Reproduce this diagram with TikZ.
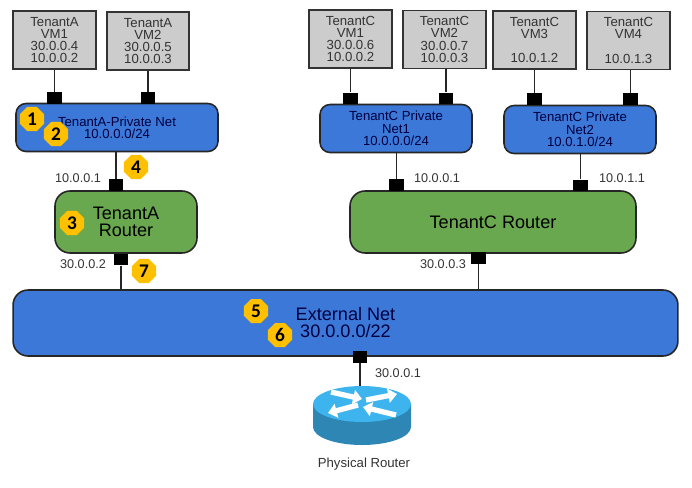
\documentclass[tikz,border=0pt]{standalone}
\usepackage{fontspec}
\setmainfont{Liberation Sans}
\newfontfamily\badgefont{Carlito}
\usetikzlibrary{arrows.meta,shapes.geometric}
\definecolor{vmGris}{HTML}{CCCCCC}
\definecolor{redAzul}{HTML}{3C78D8}
\definecolor{routerVerde}{HTML}{6AA84F}
\definecolor{badgeOro}{HTML}{FFC000}
\definecolor{fisicoClaro}{HTML}{3DB4EE}
\definecolor{fisicoOsc}{HTML}{2E86B5}
\definecolor{textoOsc}{HTML}{333333}

\begin{document}
\begin{tikzpicture}[
    x=0.02cm, y=-0.02cm,
    cajavm/.style={rectangle, draw=black!80, line width=0.9pt, fill=vmGris, text=textoOsc,
                 minimum width=1.65cm, minimum height=1.16cm, inner sep=0pt, align=center,
                 font=\fontsize{7.5}{7}\selectfont},
    cajanet/.style={rectangle, rounded corners=0.2cm, draw=black!85, line width=0.9pt, fill=redAzul,
                 minimum height=0.96cm, inner sep=0pt, align=center, text=black!75!blue,
                 font=\fontsize{7.5}{7}\selectfont},
    cajarouter/.style={rectangle, rounded corners=0.3cm, draw=black!85, line width=0.9pt, fill=routerVerde,
                 minimum height=1.24cm, inner sep=0pt, align=center,
                 font=\fontsize{10.3}{9.7}\selectfont},
    puerto/.style={rectangle, fill=black, minimum width=0.29cm, minimum height=0.23cm, inner sep=0pt},
    enlace/.style={draw=black!85, line width=1.1pt},
    ipnodo/.style={font=\fontsize{7.2}{8}\selectfont, text=textoOsc, inner sep=0pt},
    badge/.style={regular polygon, regular polygon sides=8, fill=badgeOro, minimum size=0.52cm,
                 inner sep=0pt, font=\badgefont\bfseries\fontsize{11}{11}\selectfont},
    flechar/.style={-{Triangle[length=5pt, width=8pt]}, white, line width=3pt}
  ]
  \useasboundingbox (0,0) rectangle (692,487);

  % VMs de TenantA
  \node[cajavm] (vmA1) at (54.5,40) {TenantA\\ VM1\\ 30.0.0.4\\ 10.0.0.2};
  \node[cajavm] (vmA2) at (148,41) {TenantA\\ VM2\\ 30.0.0.5\\ 10.0.0.3};

  % VMs de TenantC
  \node[cajavm] (vmC1) at (350.5,39) {TenantC\\ VM1\\ 30.0.0.6\\ 10.0.0.2};
  \node[cajavm] (vmC2) at (444.5,39.5) {TenantC\\ VM2\\ 30.0.0.7\\ 10.0.0.3};
  \node[cajavm] (vmC3) at (534.5,40) {TenantC\\ VM3\\ ~\\ 10.0.1.2};
  \node[cajavm] (vmC4) at (628.5,40.5) {TenantC\\ VM4\\ ~\\ 10.0.1.3};

  % Redes
  \node[cajanet, minimum width=4.04cm] (netA) at (117,127.5) {TenantA-Private Net\\ 10.0.0.0/24};
  \node[cajanet, minimum width=3.04cm] (netC1) at (396,128.5) {TenantC Private\\ Net1\\ 10.0.0.0/24};
  \node[cajanet, minimum width=3.04cm] (netC2) at (580,129.5) {TenantC Private\\ Net2\\ 10.0.1.0/24};
  \node[cajanet, minimum width=13.3cm, minimum height=1.32cm, rounded corners=0.3cm,
        font=\fontsize{10.3}{9.7}\selectfont] (netExt) at (345.5,323) {External Net\\ 30.0.0.0/22};

  % Routers
  \node[cajarouter, minimum width=2.84cm] (routerA) at (126,222) {TenantA\\ Router};
  \node[cajarouter, minimum width=5.72cm] (routerC) at (493,222) {TenantC Router};

  % Puertos
  \foreach \n/\x/\y in {pA1/54.5/98, pA2/148/98, pA3/116/185, pA4/121/259.5,
                        pC1/350.5/98.5, pC2/446/98.5, pC3/534.5/99, pC4/630.5/99,
                        pC5/396.5/185, pC6/580.5/185.5, pC7/478.5/258, pExt/360/357} {
    \node[puerto] (\n) at (\x,\y) {};
  }

  % Enlaces
  \foreach \a/\b in {vmA1/pA1, vmA2/pA2, vmC1/pC1, vmC2/pC2, vmC3/pC3, vmC4/pC4} {
    \draw[enlace] (\a.south -| \b.center) -- (\b);
  }
  \foreach \a/\b in {netA/pA3, netC1/pC5, netC2/pC6} {
    \draw[enlace] (\a.south -| \b.center) -- (\b);
  }
  \draw[enlace] (pA4) -- (pA4 |- netExt.north);
  \draw[enlace] (pC7) -- (pC7 |- netExt.north);

  % Router fisico
  \fill[fisicoOsc] (313,404) -- (313,427) arc[start angle=180, end angle=360, x radius=49, y radius=-18] -- (411,404) -- cycle;
  \node[ellipse, fill=fisicoClaro, minimum width=1.96cm, minimum height=0.72cm, inner sep=0pt] (fisico) at (362,404) {};
  \draw[flechar] (331,392) -- (362,399);
  \draw[flechar] (366,400) -- (397,394);
  \draw[flechar] (358,405) -- (328,413);
  \draw[flechar] (396,415) -- (363,407);
  \draw[enlace] (pExt) -- (pExt |- fisico.north);
  \node[ipnodo, font=\fontsize{7.5}{8}\selectfont] (fisicoTxt) at (364,464) {Physical Router};

  % Direcciones IP
  \foreach \n/\x/\y/\t in {ipA1/78/178/10.0.0.1, ipA2/83/264/30.0.0.2, ipC1/437/178/10.0.0.1,
                           ipC2/622/178/10.0.1.1, ipC3/443/264/30.0.0.3, ipExt/398/373/30.0.0.1} {
    \node[ipnodo] (\n) at (\x,\y) {\t};
  }

  % Pasos
  \foreach \n/\x/\y in {1/32/119, 2/56/134, 3/72/223, 4/136/167, 5/256/311, 6/280/335, 7/144/271} {
    \node[badge] (paso\n) at (\x,\y) {\n};
  }
\end{tikzpicture}
\end{document}
